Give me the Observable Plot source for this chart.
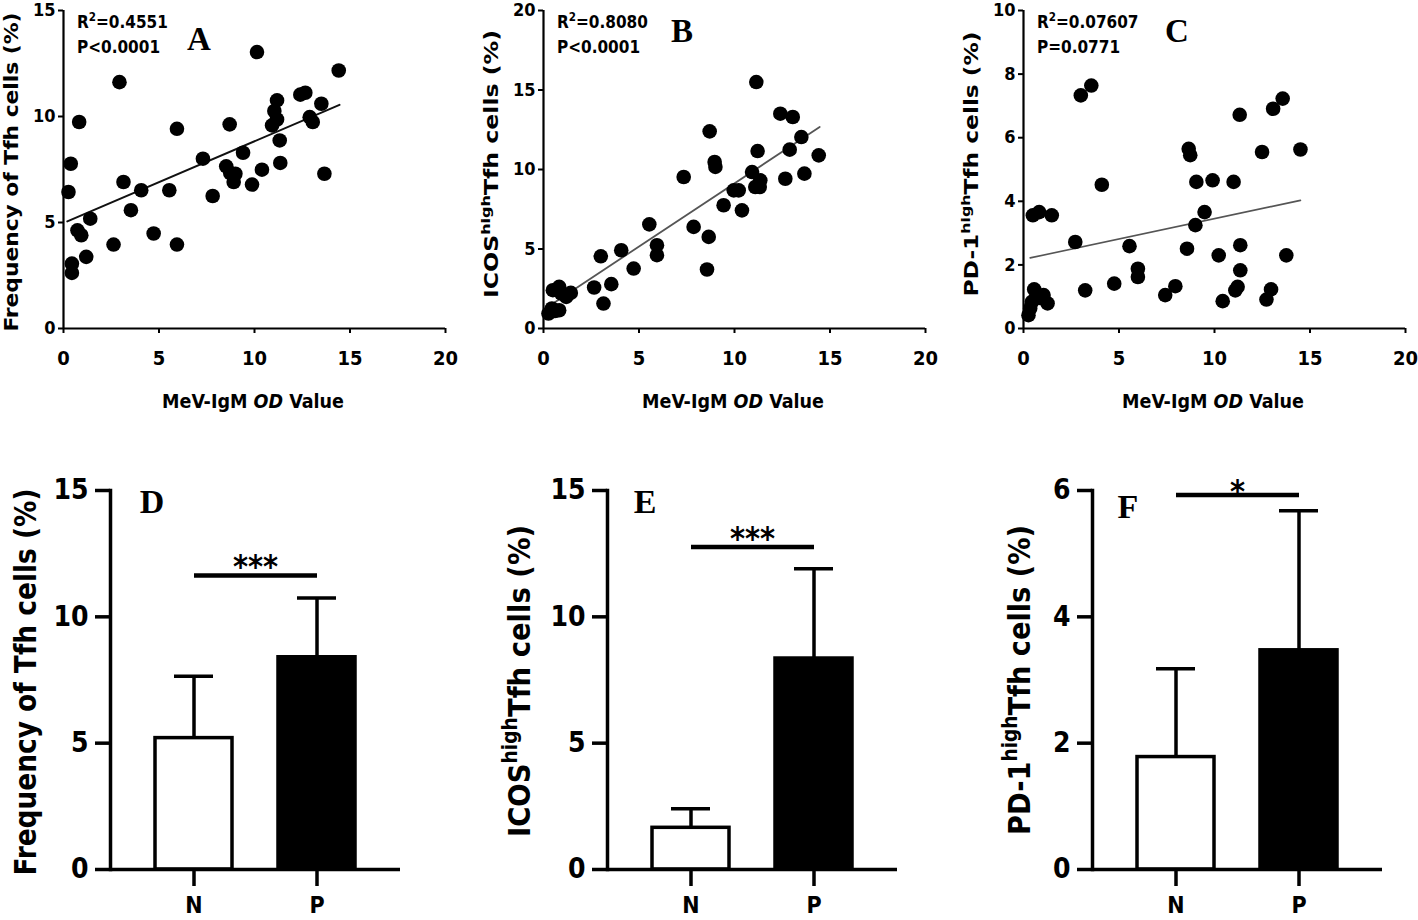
<!DOCTYPE html>
<html><head><meta charset="utf-8">
<script src="https://cdn.jsdelivr.net/npm/d3@7"></script>
<script src="https://cdn.jsdelivr.net/npm/@observablehq/plot@0.6"></script>
<style>
body{margin:0;background:#fff;}
#root{position:relative;width:1418px;height:920px;overflow:hidden;background:#fff;}
#root svg{position:absolute;overflow:visible;}
</style></head><body><div id="root"></div>
<script>
// ---------- data ----------
const xTicks = [0, 5, 10, 15, 20];

// Panel A: Frequency of Tfh cells vs MeV-IgM OD
const aX = [0.26,0.38,0.44,0.44,0.82,0.73,0.93,1.19,1.40,2.62,2.93,3.14,3.53,4.07,4.72,5.54,5.94,5.94,7.30,7.81,8.52,8.70,8.73,8.91,9.00,9.40,9.87,10.39,10.13,10.92,11.04,11.18,11.18,11.32,11.35,12.40,12.66,12.89,13.05,13.50,13.66,14.41];
const aY = [6.44,7.77,3.06,2.62,9.74,4.63,4.40,3.38,5.18,3.96,11.62,6.91,5.58,6.52,4.48,6.52,9.42,3.96,8.01,6.25,7.65,9.63,7.33,6.91,7.30,8.29,6.79,7.49,13.04,9.58,10.26,10.76,9.86,8.87,7.81,11.03,11.12,9.97,9.74,10.60,7.30,12.17];
const aFitX = [0.2, 14.45], aFitY = [5.05, 10.55];

// Panel B: ICOS-high Tfh cells
const bX = [0.26,0.44,0.49,0.82,0.82,0.93,1.19,1.43,0.6,2.65,3.00,3.14,3.55,4.07,4.72,5.54,5.94,5.94,7.34,7.86,8.65,8.56,8.70,8.96,9.00,9.43,9.96,10.22,10.39,10.92,11.14,11.21,11.09,11.35,11.32,12.40,12.66,12.89,13.05,13.50,13.66,14.41];
const bY = [0.94,1.26,2.41,2.62,1.15,2.20,1.99,2.24,1.10,2.58,4.54,1.57,2.79,4.92,3.77,6.55,5.24,4.61,9.53,6.39,5.76,3.71,12.40,10.47,10.16,7.75,8.69,8.69,7.43,9.84,15.50,11.16,8.90,9.32,8.90,13.51,9.42,11.25,13.30,12.04,9.74,10.89];
const bFitX = [0.26, 14.46], bFitY = [1.39, 12.67];

// Panel C: PD-1-high Tfh cells
const cX = [0.26,0.35,0.44,0.49,0.56,0.82,0.87,1.05,1.26,1.48,2.71,3.00,3.23,3.55,4.10,4.75,5.55,5.99,5.99,7.42,7.95,8.56,8.65,8.73,9.00,9.05,9.48,9.90,10.22,10.43,11.00,11.09,11.21,11.32,11.35,11.35,12.49,12.72,12.96,13.07,13.57,13.76,14.50];
const cY = [0.42,0.63,0.84,3.56,1.23,3.66,0.96,1.05,0.79,3.56,2.72,7.33,1.20,7.64,4.52,1.41,2.59,1.88,1.62,1.05,1.33,2.51,5.65,5.45,3.25,4.61,3.66,4.66,2.30,0.86,4.61,1.20,1.31,6.72,2.62,1.83,5.55,0.91,1.23,6.91,7.23,2.30,5.63];
const cFitX = [0.35, 14.5], cFitY = [2.22, 4.03];

// Bar panels D, E, F (mean and upper SD)
const groups = ["N", "P"];
const dMean = [5.2, 8.4],  dSD = [2.45, 2.35];
const eMean = [1.65, 8.35], eSD = [0.75, 3.55];
const fMean = [1.78, 3.47], fSD = [1.40, 2.21];
const sigY = {D: 11.64, E: 12.76, F: 5.93};
const sigLabelY = {D: 12.3, E: 13.42, F: 6.11};
const sigLabel = {D: "***", E: "***", F: "*"};

// ---------- helpers ----------
const FONT = '"Liberation Sans Narrow","Arial Narrow","DejaVu Sans Condensed","Liberation Sans",Arial,sans-serif';
const SERIF = '"Liberation Serif","Times New Roman",serif';
const root = document.getElementById("root");
const fmt = (d) => String(d);

function place(svg, left, top) {
  svg.style.left = left + "px";
  svg.style.top = top + "px";
  root.appendChild(svg);
  return svg;
}

function addText(svg, o) {
  const t = d3.select(svg).append("text")
    .attr("font-family", o.family || FONT)
    .attr("font-size", o.size)
    .attr("font-weight", o.weight || "bold")
    .attr("text-anchor", o.anchor || "start")
    .attr("fill", "black");
  if (o.rotate) t.attr("transform", `translate(${o.x},${o.y}) rotate(${o.rotate})`);
  else t.attr("x", o.x).attr("y", o.y);
  if (o.len) t.attr("textLength", o.len).attr("lengthAdjust", "spacingAndGlyphs");
  const shift = o.size * 0.42;
  let up = false;
  for (const p of o.parts) {
    const s = t.append("tspan").text(p.t);
    if (p.sup) { s.attr("dy", -shift).attr("font-size", o.size * 0.68); up = true; }
    else if (up) { s.attr("dy", shift); up = false; }
    if (p.italic) s.attr("font-style", "italic");
  }
  return t;
}

function scatter({xs, ys, fx, fy, yMax, yTicks, lineColor, lineWidth, width}) {
  const data = xs.map((v, i) => ({x: v, y: ys[i]}));
  const fit = fx.map((v, i) => ({x: v, y: fy[i]}));
  return Plot.plot({
    width, height: 420,
    marginLeft: 63, marginRight: width - 445, marginTop: 10, marginBottom: 92,
    x: {domain: [0, 20]},
    y: {domain: [0, yMax]},
    style: {fontFamily: FONT, color: "black", background: "transparent", overflow: "visible"},
    marks: [
      Plot.axisX({ticks: xTicks, tickFormat: fmt, tickSize: 5, tickPadding: 17, fontSize: 20, fontWeight: "bold", label: null, strokeWidth: 2}),
      Plot.axisY({ticks: yTicks, tickFormat: fmt, tickSize: 5, tickPadding: 3, fontSize: 18, fontWeight: "bold", label: null, strokeWidth: 2}),
      Plot.ruleX([0], {strokeWidth: 2.2}),
      Plot.ruleY([0], {strokeWidth: 2.2}),
      Plot.line(fit, {x: "x", y: "y", stroke: lineColor, strokeWidth: lineWidth}),
      Plot.dot(data, {x: "x", y: "y", r: 7.3, fill: "black"})
    ]
  });
}

function bars({mean, sd, yMax, yTicks, key, marginLeft, width}) {
  const data = groups.map((g, i) => ({g, mean: mean[i], hi: mean[i] + sd[i], fill: i === 0 ? "white" : "black"}));
  const sig = [{from: "N", to: "P", y: sigY[key], ly: sigLabelY[key], label: sigLabel[key]}];
  return Plot.plot({
    width, height: 460,
    marginLeft, marginRight: width - marginLeft - 290, marginTop: 30, marginBottom: 51,
    x: {domain: groups, paddingInner: 0.37, paddingOuter: 0.355},
    y: {domain: [0, yMax]},
    color: {type: "identity"},
    style: {fontFamily: FONT, color: "black", background: "transparent", overflow: "visible"},
    marks: [
      Plot.axisY({ticks: yTicks, tickFormat: fmt, tickSize: 15, tickPadding: 7, fontSize: 28, fontWeight: "bold", label: null, strokeWidth: 3.5}),
      Plot.axisX({tickSize: 17, tickPadding: 10, fontSize: 23, fontWeight: "bold", label: null, strokeWidth: 3.5}),
      Plot.ruleX(data, {x: "g", y1: "mean", y2: "hi", strokeWidth: 3.5}),
      Plot.tickY(data, {x: "g", y: "hi", strokeWidth: 3.5, insetLeft: 19, insetRight: 19}),
      Plot.barY(data, {x: "g", y: "mean", fill: "fill", stroke: "black", strokeWidth: 3.5}),
      Plot.frame({anchor: "left", strokeWidth: 3.5}),
      Plot.ruleY([0], {strokeWidth: 3.5}),
      Plot.link(sig, {x1: "from", x2: "to", y1: "y", y2: "y", strokeWidth: 4.5}),
      Plot.text(sig, {y: "ly", text: "label", fontSize: 32, fontWeight: "bold", dy: 8, frameAnchor: "middle"})
    ]
  });
}

// ---------- top row ----------
const svgA = place(scatter({xs: aX, ys: aY, fx: aFitX, fy: aFitY, yMax: 15, yTicks: [0,5,10,15], lineColor: "#111", lineWidth: 2, width: 460}), 0, 0);
const svgB = place(scatter({xs: bX, ys: bY, fx: bFitX, fy: bFitY, yMax: 20, yTicks: [0,5,10,15,20], lineColor: "#555", lineWidth: 1.8, width: 460}), 480, 0);
const svgC = place(scatter({xs: cX, ys: cY, fx: cFitX, fy: cFitY, yMax: 10, yTicks: [0,2,4,6,8,10], lineColor: "#555", lineWidth: 1.6, width: 458}), 960, 0);

const xTitle = [{t: "MeV-IgM "}, {t: "OD", italic: true}, {t: " Value"}];
for (const s of [svgA, svgB, svgC]) addText(s, {x: 253, y: 408, size: 19.5, anchor: "middle", parts: xTitle});

addText(svgA, {x: 18, y: 172, rotate: -90, size: 19, anchor: "middle", len: 319, parts: [{t: "Frequency of Tfh cells (%)"}]});
addText(svgB, {x: 18, y: 164, rotate: -90, size: 19, anchor: "middle", len: 268, parts: [{t: "ICOS"}, {t: "high", sup: true}, {t: "Tfh cells (%)"}]});
addText(svgC, {x: 18, y: 164, rotate: -90, size: 19, anchor: "middle", len: 265, parts: [{t: "PD-1"}, {t: "high", sup: true}, {t: "Tfh cells (%)"}]});

const stats = [[svgA, "0.4551", "P<0.0001"], [svgB, "0.8080", "P<0.0001"], [svgC, "0.07607", "P=0.0771"]];
for (const [s, r2, p] of stats) {
  addText(s, {x: 77, y: 28, size: 17, parts: [{t: "R"}, {t: "2", sup: true}, {t: "=" + r2}]});
  addText(s, {x: 77, y: 53, size: 17, parts: [{t: p}]});
}
addText(svgA, {x: 199, y: 50, size: 33, family: SERIF, anchor: "middle", parts: [{t: "A"}]});
addText(svgB, {x: 202, y: 42, size: 33, family: SERIF, anchor: "middle", parts: [{t: "B"}]});
addText(svgC, {x: 217, y: 42, size: 33, family: SERIF, anchor: "middle", parts: [{t: "C"}]});

// ---------- bottom row ----------
const svgD = place(bars({mean: dMean, sd: dSD, yMax: 15, yTicks: [0,5,10,15], key: "D", marginLeft: 110, width: 470}), 0, 460);
const svgE = place(bars({mean: eMean, sd: eSD, yMax: 15, yTicks: [0,5,10,15], key: "E", marginLeft: 127, width: 470}), 480, 460);
const svgF = place(bars({mean: fMean, sd: fSD, yMax: 6, yTicks: [0,2,4,6], key: "F", marginLeft: 142, width: 468}), 950, 460);

addText(svgD, {x: 36, y: 222, rotate: -90, size: 31, anchor: "middle", len: 387, parts: [{t: "Frequency of Tfh cells (%)"}]});
addText(svgE, {x: 50, y: 221, rotate: -90, size: 31, anchor: "middle", len: 312, parts: [{t: "ICOS"}, {t: "high", sup: true}, {t: "Tfh cells (%)"}]});
addText(svgF, {x: 80, y: 220, rotate: -90, size: 31, anchor: "middle", len: 310, parts: [{t: "PD-1"}, {t: "high", sup: true}, {t: "Tfh cells (%)"}]});

addText(svgD, {x: 152, y: 53, size: 34, family: SERIF, anchor: "middle", parts: [{t: "D"}]});
addText(svgE, {x: 165, y: 53, size: 34, family: SERIF, anchor: "middle", parts: [{t: "E"}]});
addText(svgF, {x: 178, y: 58, size: 34, family: SERIF, anchor: "middle", parts: [{t: "F"}]});
</script></body></html>
